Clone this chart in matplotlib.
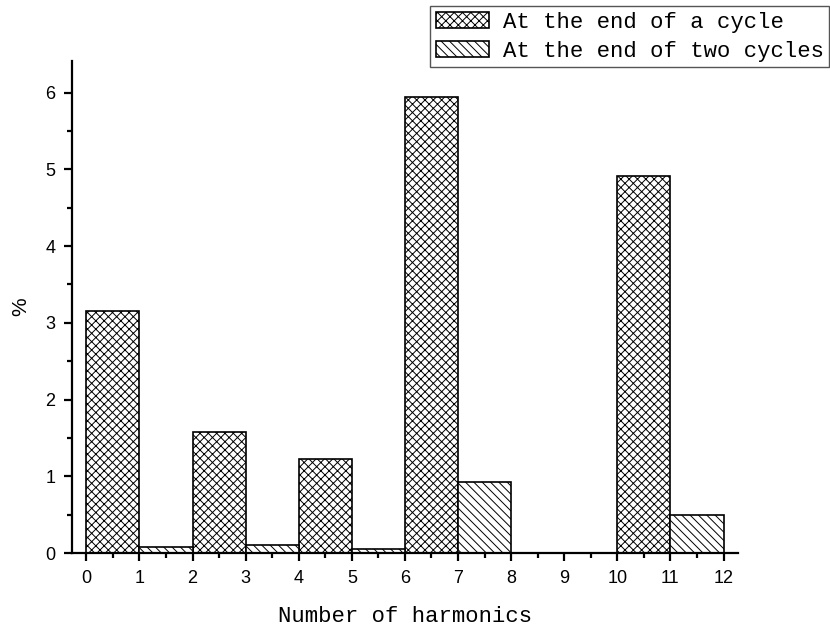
import numpy as np
import matplotlib
matplotlib.use('Agg')
import matplotlib.pyplot as plt
from matplotlib.ticker import MultipleLocator

# bar left edges (each group holds two bars of width 1)
group_start = [0, 2, 4, 6, 8, 10]
one_cycle = [3.16, 1.58, 1.23, 5.94, 0.0, 4.91]
two_cycles = [0.08, 0.11, 0.05, 0.93, 0.0, 0.50]
labels = ['At the end of a cycle', 'At the end of two cycles']

plt.rcParams['hatch.linewidth'] = 0.7
plt.rcParams['hatch.color'] = '#555555'

fig = plt.figure(figsize=(8.3, 6.3), dpi=100)
ax = fig.add_axes([0.0867, 0.1222, 0.8023, 0.7808])

x = np.array(group_start)
ax.bar(x, one_cycle, width=1, align='edge', facecolor='white',
       edgecolor='black', linewidth=1.2, hatch='xxxx', label=labels[0])
ax.bar(x + 1, two_cycles, width=1, align='edge', facecolor='white',
       edgecolor='black', linewidth=1.2, hatch='\\\\\\\\', label=labels[1])

ax.set_xlim(-0.27, 12.27)
ax.set_ylim(0, 6.41)
ax.xaxis.set_major_locator(MultipleLocator(1))
ax.xaxis.set_minor_locator(MultipleLocator(0.5))
ax.yaxis.set_major_locator(MultipleLocator(1))
ax.yaxis.set_minor_locator(MultipleLocator(0.5))

for s in ['top', 'right']:
    ax.spines[s].set_visible(False)
for s in ['left', 'bottom']:
    ax.spines[s].set_linewidth(1.6)

ax.tick_params(which='major', direction='out', length=6, width=1.6,
               labelsize=13, pad=6)
ax.tick_params(which='minor', direction='out', length=3.5, width=1.6)
for t in ax.get_xticklabels() + ax.get_yticklabels():
    t.set_fontfamily('Liberation Sans')

ax.set_xlabel('Number of harmonics', family='Liberation Mono', fontsize=16,
              labelpad=14)
ax.set_ylabel('%', family='Liberation Sans', fontsize=15, labelpad=11)

leg = fig.legend(loc='upper right', bbox_to_anchor=(0.999, 0.99),
                 prop={'family': 'Liberation Mono', 'size': 16},
                 fancybox=False, framealpha=1, edgecolor='#555555',
                 borderpad=0.25, handlelength=2.4, handleheight=0.77,
                 handletextpad=0.6, labelspacing=0.35, borderaxespad=0)
leg.get_frame().set_linewidth(1.0)

fig.savefig('out.png', dpi=100)
